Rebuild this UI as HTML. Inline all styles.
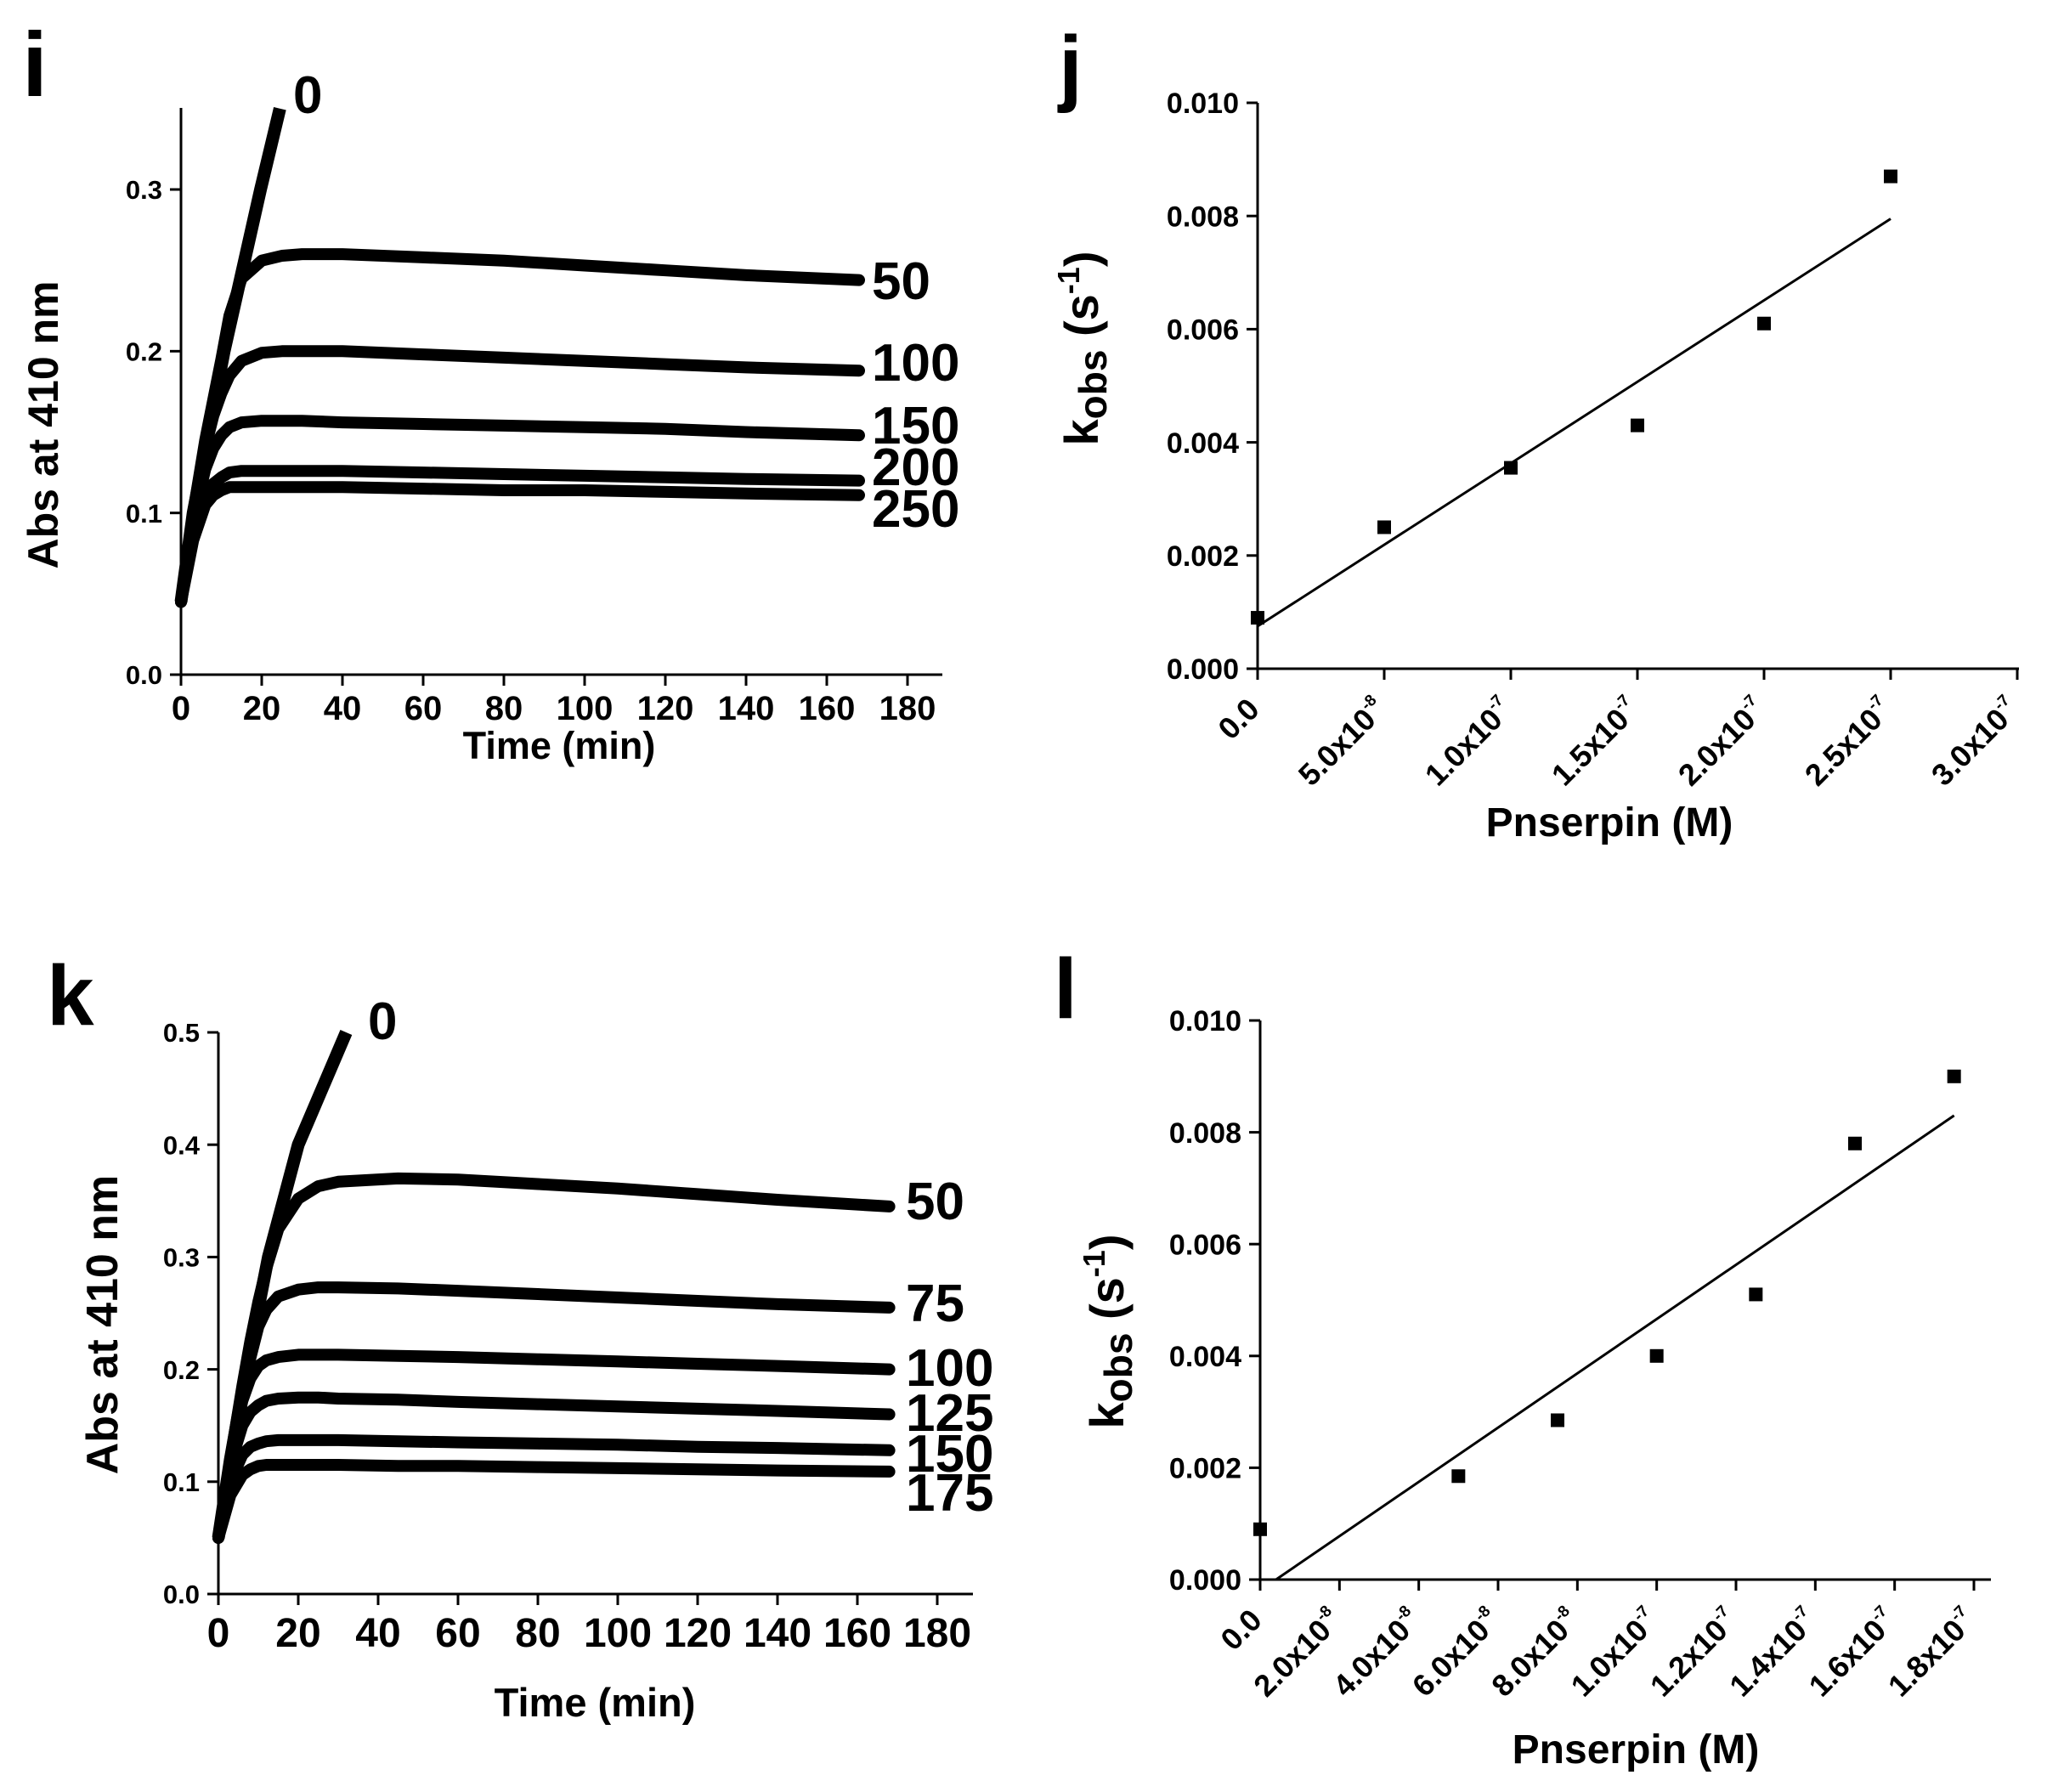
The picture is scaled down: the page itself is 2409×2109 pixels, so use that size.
<!DOCTYPE html>
<html><head><meta charset="utf-8"><style>
html,body{margin:0;padding:0;background:#fff;}
svg{display:block;font-family:"Liberation Sans",Arial,sans-serif;font-weight:bold;}
</style></head><body>
<svg id="fig" width="2409" height="2109" viewBox="0 0 2409 2109" xmlns="http://www.w3.org/2000/svg">
<rect width="2409" height="2109" fill="#fff"/>
</svg>
<script>
// ---- Panel i data ----
const iTimes = [0,3,6,8,10,12,15,20,25,30,40,60,80,100,120,140,168];
const iS0 = {t:[0,3,10.7,19.7,24.5], v:[0.045,0.1,0.2,0.3,0.35]};
const iS50 = [0.045,0.1,0.145,0.17,0.195,0.222,0.245,0.256,0.259,0.26,0.26,0.258,0.256,0.253,0.25,0.247,0.244];
const iS100 = [0.045,0.1,0.14,0.16,0.174,0.185,0.194,0.199,0.2,0.2,0.2,0.198,0.196,0.194,0.192,0.19,0.188];
const iS150 = [0.045,0.095,0.127,0.14,0.148,0.153,0.156,0.157,0.157,0.157,0.156,0.155,0.154,0.153,0.152,0.15,0.148];
const iS200 = [0.045,0.088,0.11,0.118,0.122,0.125,0.126,0.126,0.126,0.126,0.126,0.125,0.124,0.123,0.122,0.121,0.12];
const iS250 = [0.045,0.083,0.105,0.111,0.114,0.116,0.116,0.116,0.116,0.116,0.116,0.115,0.114,0.114,0.113,0.112,0.111];
const iLabels = ["50","100","150","200","250"];
const iYTicks = [0.0,0.1,0.2,0.3];
const iXTicks = [0,20,40,60,80,100,120,140,160,180];
// ---- Panel k data ----
const kTimes = [0,3,6,8,10,12,15,20,25,30,45,60,80,100,120,140,168];
const kS0 = {t:[0,3,7,12.5,20,26,32], v:[0.05,0.12,0.2,0.3,0.4,0.45,0.5]};
const kS50 = [0.05,0.12,0.185,0.225,0.26,0.29,0.325,0.352,0.363,0.367,0.37,0.369,0.365,0.361,0.356,0.351,0.345];
const kS75 = [0.05,0.12,0.18,0.21,0.238,0.253,0.265,0.271,0.273,0.273,0.272,0.27,0.267,0.264,0.261,0.258,0.255];
const kS100 = [0.05,0.12,0.172,0.192,0.203,0.208,0.211,0.213,0.213,0.213,0.212,0.211,0.209,0.207,0.205,0.203,0.2];
const kS125 = [0.05,0.115,0.15,0.162,0.168,0.172,0.174,0.175,0.175,0.174,0.173,0.171,0.169,0.167,0.165,0.163,0.16];
const kS150 = [0.05,0.1,0.124,0.131,0.134,0.136,0.137,0.137,0.137,0.137,0.136,0.135,0.134,0.133,0.131,0.13,0.128];
const kS175 = [0.05,0.088,0.106,0.111,0.114,0.115,0.115,0.115,0.115,0.115,0.114,0.114,0.113,0.112,0.111,0.11,0.109];
const kLabels = ["50","75","100","125","150","175"];
const kYTicks = [0.0,0.1,0.2,0.3,0.4,0.5];
const kXTicks = [0,20,40,60,80,100,120,140,160,180];
// ---- Panel j data ----
const jConc = [0,5e-8,1e-7,1.5e-7,2e-7,2.5e-7];
const jKobs = [0.0009,0.0025,0.00355,0.0043,0.0061,0.0087];
const jFit = [[0,0.00075],[2.5e-7,0.00795]];
const jYTicks = [0,0.002,0.004,0.006,0.008,0.010];
const jXTicks = [0,5e-8,1e-7,1.5e-7,2e-7,2.5e-7,3e-7];
const jXLabels = [["0.0",""],["5.0x10","-8"],["1.0x10","-7"],["1.5x10","-7"],["2.0x10","-7"],["2.5x10","-7"],["3.0x10","-7"]];
// ---- Panel l data ----
const lConc = [0,5e-8,7.5e-8,1e-7,1.25e-7,1.5e-7,1.75e-7];
const lKobs = [0.0009,0.00185,0.00285,0.004,0.0051,0.0078,0.009];
const lFit = [[0.4e-8,0],[1.75e-7,0.0083]];
const lYTicks = [0,0.002,0.004,0.006,0.008,0.010];
const lXTicks = [0,2e-8,4e-8,6e-8,8e-8,1e-7,1.2e-7,1.4e-7,1.6e-7,1.8e-7];
const lXLabels = [["0.0",""],["2.0x10","-8"],["4.0x10","-8"],["6.0x10","-8"],["8.0x10","-8"],["1.0x10","-7"],["1.2x10","-7"],["1.4x10","-7"],["1.6x10","-7"],["1.8x10","-7"]];

const NS="http://www.w3.org/2000/svg";
const svg=document.getElementById('fig');
function mk(tag,attrs,parent,text){const e=document.createElementNS(NS,tag);for(const k in attrs)e.setAttribute(k,attrs[k]);if(text!==undefined)e.textContent=text;(parent||svg).appendChild(e);return e;}

function linScale(d0,d1,r0,r1){return v=>r0+(v-d0)*(r1-r0)/(d1-d0);}

function axes(g,x0,y0,xEnd,yTop,xs,ys,xTicks,yTicks,yFmt,yFont){
  const a=mk('line',{x1:x0,y1:y0,x2:xEnd,y2:y0,stroke:'#000','stroke-width':3},g);
  
  
  const b=mk('line',{x1:x0,y1:y0,x2:x0,y2:yTop,stroke:'#000','stroke-width':3},g);
  
  
  xTicks.forEach(t=>{mk('line',{x1:xs(t),y1:y0,x2:xs(t),y2:y0+13,stroke:'#000','stroke-width':3},g);});
  yTicks.forEach(t=>{mk('line',{x1:x0,y1:ys(t),x2:x0-13,y2:ys(t),stroke:'#000','stroke-width':3},g);
    const tx=mk('text',{x:x0-22,y:ys(t)+yFont*0.36,'font-size':yFont,'text-anchor':'end'},g,yFmt(t));
    
    
  });
}

function kineticPanel(cfg){
  const g=mk('g',{});
  
  
  const xs=linScale(0,180,cfg.x0,cfg.x180), ys=linScale(0,cfg.yMax,cfg.y0,cfg.yTopV);
  axes(g,cfg.x0,cfg.y0,cfg.xEnd,cfg.yTop,xs,ys,cfg.xTicks,cfg.yTicks,v=>v.toFixed(1),cfg.yFont);
  cfg.xTicks.forEach(t=>{const tx=mk('text',{x:xs(t),y:cfg.xLabY,'font-size':cfg.xFont,'text-anchor':'middle'},g,String(t));
    
    });
  const xt=mk('text',{x:cfg.xTitleX,y:cfg.xTitleY,'font-size':cfg.titleFont,'text-anchor':'middle'},g,'Time (min)');
  
  
  const yt=mk('text',{x:0,y:0,'font-size':cfg.yTitleFont,'text-anchor':'middle',transform:`translate(${cfg.yTitleX},${cfg.yTitleY}) rotate(-90)`},g,'Abs at 410 nm');
  
  
  const pl=mk('text',{x:cfg.letterX,y:cfg.letterY,'font-size':cfg.letterFont},g,cfg.letter);
  
  
  const p0=cfg.s0.t.map((t,i)=>`${xs(t).toFixed(1)},${ys(cfg.s0.v[i]).toFixed(1)}`).join(' ');
  const c0=mk('polyline',{points:p0,fill:'none',stroke:'#000','stroke-width':15,'stroke-linejoin':'round'},g);
  
  
  const l0=mk('text',{x:cfg.zeroLabX,y:cfg.zeroLabY,'font-size':62},g,'0');
  
  
  cfg.series.forEach((s,si)=>{
    const pts=cfg.times.map((t,i)=>`${xs(t).toFixed(1)},${ys(s[i]).toFixed(1)}`).join(' ');
    const c=mk('polyline',{points:pts,fill:'none',stroke:'#000','stroke-width':14,'stroke-linejoin':'round','stroke-linecap':'round'},g);
    
    
    const lab=mk('text',{x:cfg.labX,y:cfg.labY[si]+22,'font-size':62},g,cfg.labels[si]);
    
    
  });
}

kineticPanel({name:'panel-i',x0:213,x180:1068,xEnd:1109,y0:794,yMax:0.3,yTopV:223,yTop:127,
  xTicks:iXTicks,yTicks:iYTicks,yFont:31,xFont:40,xLabY:847,titleFont:45,yTitleFont:50,xTitleX:658,xTitleY:893,
  yTitleX:68,yTitleY:500,letter:'i',letterX:26,letterY:113,letterFont:108,
  s0:iS0,zeroLabX:345,zeroLabY:133,times:iTimes,series:[iS50,iS100,iS150,iS200,iS250],labels:iLabels,
  labX:1026,labY:[330,426,500,549,598]});
kineticPanel({name:'panel-k',x0:257,x180:1103,xEnd:1145,y0:1876,yMax:0.5,yTopV:1215,yTop:1215,
  xTicks:kXTicks,yTicks:kYTicks,yFont:31,xFont:48,xLabY:1938,titleFont:47,yTitleFont:52,xTitleX:700,xTitleY:2020,
  yTitleX:138,yTitleY:1559,letter:'k',letterX:55,letterY:1206,letterFont:100,
  s0:kS0,zeroLabX:433,zeroLabY:1223,times:kTimes,series:[kS50,kS75,kS100,kS125,kS150,kS175],labels:kLabels,
  labX:1066,labY:[1413,1533,1609,1662,1710,1756]});

function ratePanel(cfg){
  const g=mk('g',{});
  
  
  const xs=linScale(0,cfg.xMaxV,cfg.x0,cfg.xMaxPx), ys=linScale(0,0.010,cfg.y0,cfg.yTop);
  axes(g,cfg.x0,cfg.y0,cfg.xEnd,cfg.yTop,xs,ys,cfg.xTicks,cfg.yTicks,v=>v.toFixed(3),34);
  cfg.xTicks.forEach((t,i)=>{
    const ax=xs(t)+4, ay=cfg.y0+50;
    const tx=mk('text',{x:0,y:0,'font-size':36,'text-anchor':'end',transform:`translate(${ax},${ay}) rotate(-45)`},g);
    
    
    mk('tspan',{},tx,cfg.xLabels[i][0]);
    if(cfg.xLabels[i][1]){mk('tspan',{'font-size':19,dy:-17},tx,cfg.xLabels[i][1]);}
  });
  const fit=mk('line',{x1:xs(cfg.fit[0][0]),y1:ys(cfg.fit[0][1]),x2:xs(cfg.fit[1][0]),y2:ys(cfg.fit[1][1]),stroke:'#000','stroke-width':3},g);
  
  
  cfg.conc.forEach((c,i)=>{
    const r=mk('rect',{x:xs(c)-8,y:ys(cfg.kobs[i])-8,width:16,height:16,fill:'#000'},g);
    
    
  });
  const xt=mk('text',{x:cfg.xTitleX,y:cfg.xTitleY,'font-size':48,'text-anchor':'middle'},g,'Pnserpin (M)');
  
  
  const yt=mk('text',{x:0,y:0,'font-size':56,'text-anchor':'middle',transform:`translate(${cfg.yTitleX},${cfg.yTitleY}) rotate(-90)`},g);
  
  
  mk('tspan',{},yt,'k');
  mk('tspan',{'font-size':46,dy:10},yt,'obs');
  mk('tspan',{dy:-10},yt,' (s');
  mk('tspan',{'font-size':36,dy:-22},yt,'-1');
  mk('tspan',{dy:22},yt,')');
  const pl=mk('text',{x:cfg.letterX,y:cfg.letterY,'font-size':100},g,cfg.letter);
  
  
}
ratePanel({name:'panel-j',x0:1480,y0:787,yTop:121,xMaxV:3e-7,xMaxPx:2374,xEnd:2376,xTicks:jXTicks,yTicks:jYTicks,xLabels:jXLabels,
  conc:jConc,kobs:jKobs,fit:jFit,xTitleX:1894,xTitleY:984,yTitleX:1292,yTitleY:410,letter:'j',letterX:1246,letterY:112});
ratePanel({name:'panel-l',x0:1483,y0:1859,yTop:1201,xMaxV:1.8e-7,xMaxPx:2323,xEnd:2343,xTicks:lXTicks,yTicks:lYTicks,xLabels:lXLabels,
  conc:lConc,kobs:lKobs,fit:lFit,xTitleX:1925,xTitleY:2075,yTitleX:1322,yTitleY:1567,letter:'l',letterX:1240,letterY:1198});
</script>
</body></html>
